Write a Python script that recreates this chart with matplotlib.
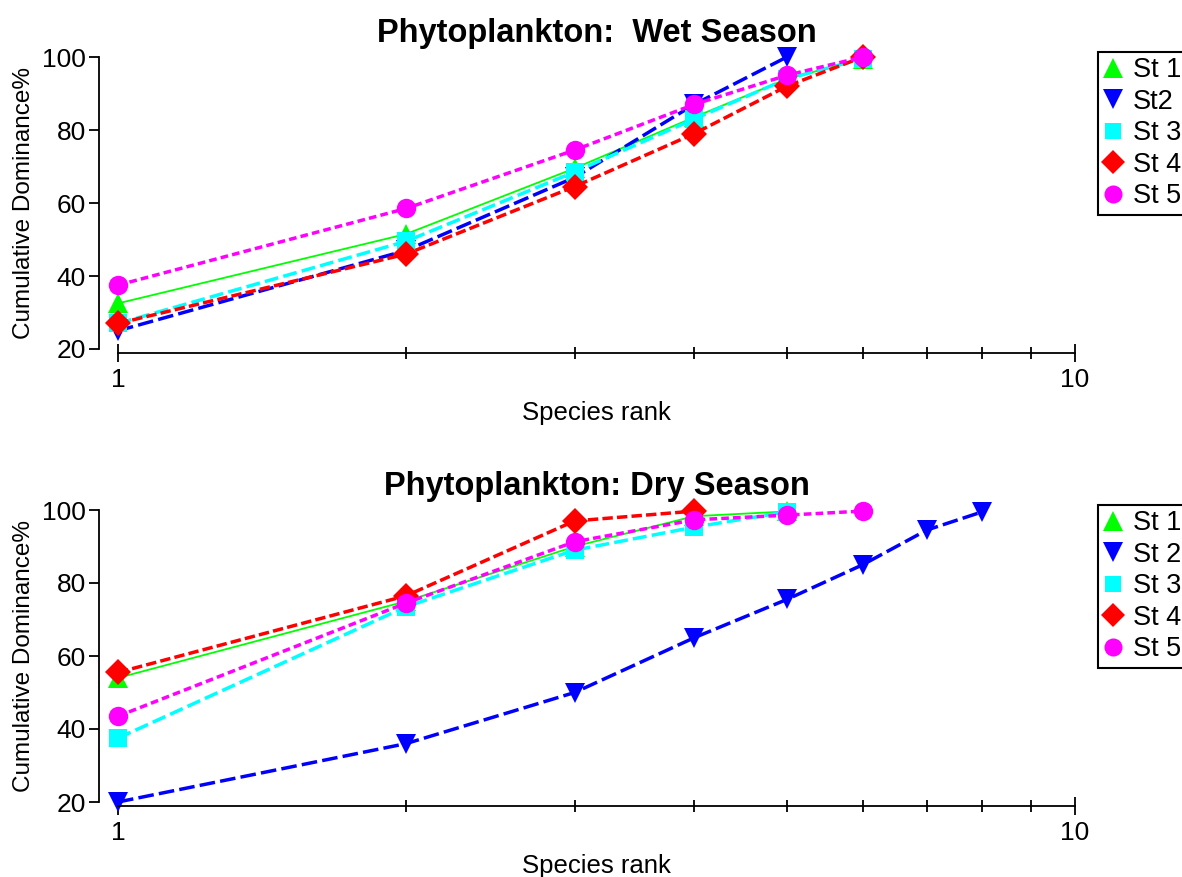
import numpy as np
import matplotlib
matplotlib.use('Agg')
import matplotlib.pyplot as plt
from matplotlib.lines import Line2D
from matplotlib.ticker import LogLocator, NullFormatter, FixedLocator

plt.rcParams['font.family'] = ['Liberation Sans', 'DejaVu Sans']

# species rank (x axis)
rank = [1, 2, 3, 4, 5, 6, 7, 8]

# cumulative dominance %, wet season
wet_st1 = [32.5, 51.5, 69.5, 83.5, 94.0, 99.5]
wet_st2 = [25.0, 47.0, 67.0, 87.0, 100.0]
wet_st3 = [27.0, 49.5, 68.5, 83.0, 94.0, 99.5]
wet_st4 = [27.0, 46.0, 64.5, 79.0, 92.0, 100.0]
wet_st5 = [37.5, 58.5, 74.5, 87.0, 95.0, 100.0]

# cumulative dominance %, dry season
dry_st1 = [54.0, 75.0, 90.0, 98.3, 99.6]
dry_st2 = [20.0, 36.0, 50.0, 65.0, 75.5, 85.0, 94.5, 99.5]
dry_st3 = [37.5, 73.5, 89.0, 95.3, 99.5]
dry_st4 = [55.5, 76.5, 97.0, 99.7]
dry_st5 = [43.5, 74.5, 91.3, 97.3, 98.6, 99.7]

wet_labels = ['St 1', 'St2', 'St 3', 'St 4', 'St 5']
dry_labels = ['St 1', 'St 2', 'St 3', 'St 4', 'St 5']

# style per station: colour, marker, marker size, line width, dash pattern
colors = ['#00ff00', '#0000ff', '#00ffff', '#ff0000', '#ff00ff']
markers = ['^', 'v', 's', 'D', 'o']
msizes = [15, 15, 13, 13, 14]
lwidths = [1.3, 2.5, 2.5, 2.5, 2.5]
dashes = [None, (4.5, 1.5), (4.0, 1.5), (3.0, 1.2), (2.2, 1.2)]


def draw_panel(ax, series, labels, title, legend_y):
    for i, ys in enumerate(series):
        line, = ax.plot(rank[:len(ys)], ys, color=colors[i], marker=markers[i],
                        ms=msizes[i], mew=0, lw=lwidths[i], clip_on=False)
        if dashes[i] is not None:
            line.set_dashes(dashes[i])

    ax.set_xscale('log')
    ax.set_xlim(1, 10)
    ax.set_ylim(20, 100)
    ax.set_yticks([20, 40, 60, 80, 100])
    ax.xaxis.set_major_locator(FixedLocator([1, 10]))
    ax.set_xticklabels(['1', '10'])
    ax.xaxis.set_minor_locator(LogLocator(base=10, subs=np.arange(2, 10)))
    ax.xaxis.set_minor_formatter(NullFormatter())

    # open axes, spines pulled away from the data area
    ax.spines['top'].set_visible(False)
    ax.spines['right'].set_visible(False)
    ax.spines['left'].set_position(('outward', 14))
    ax.spines['bottom'].set_position(('outward', 3))
    ax.spines['left'].set_linewidth(1.3)
    ax.spines['bottom'].set_linewidth(1.3)
    ax.tick_params(axis='y', direction='out', length=7, width=1.3, labelsize=19, pad=2)
    ax.tick_params(axis='x', which='major', direction='inout', length=13, width=1.3,
                   labelsize=19, pad=4)
    ax.tick_params(axis='x', which='minor', direction='inout', length=8, width=1.3)

    ax.set_title(title, fontsize=23.5, fontweight='bold', pad=11)
    ax.set_xlabel('Species rank', fontsize=18.5, labelpad=7)
    ax.set_ylabel('Cumulative Dominance%', fontsize=17.5, labelpad=5)

    handles = [Line2D([], [], color=colors[i], marker=markers[i], ms=msizes[i] - 1,
                      mew=0, ls='none') for i in range(5)]
    leg = fig.legend(handles, labels, loc='upper left',
                     bbox_to_anchor=(1098 / 1182, legend_y), fontsize=19.5,
                     frameon=True, fancybox=False, framealpha=1, edgecolor='black',
                     borderpad=0.2, labelspacing=0.2, handlelength=0.7,
                     handletextpad=0.4, borderaxespad=0)
    leg.get_frame().set_linewidth(1.5)


fig = plt.figure(figsize=(11.82, 8.77), dpi=100)
ax1 = fig.add_axes([118 / 1182, (877 - 349) / 877, 957 / 1182, 292 / 877])
ax2 = fig.add_axes([118 / 1182, (877 - 802) / 877, 957 / 1182, 292 / 877])

draw_panel(ax1, [wet_st1, wet_st2, wet_st3, wet_st4, wet_st5], wet_labels,
           'Phytoplankton:  Wet Season', 1 - 52 / 877)
draw_panel(ax2, [dry_st1, dry_st2, dry_st3, dry_st4, dry_st5], dry_labels,
           'Phytoplankton: Dry Season', 1 - 505 / 877)

fig.savefig('out.png', dpi=100)
